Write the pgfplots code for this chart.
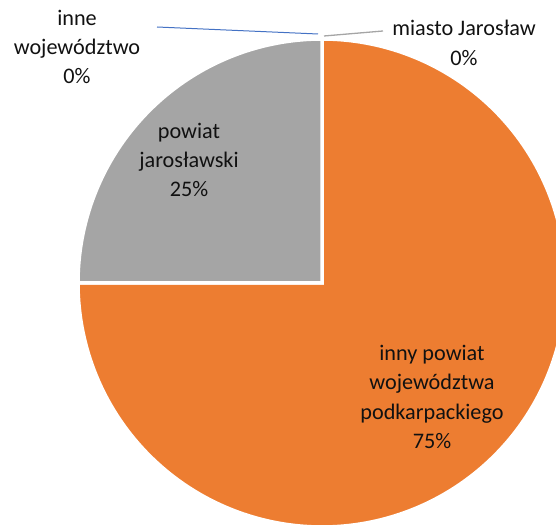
\documentclass[border=0pt]{standalone}
\usepackage{pgfplots}
\usepackage{pgfplotstable}
\usepackage{fontspec}
\setmainfont{Carlito}
\pgfplotsset{compat=1.18}
\definecolor{pieorange}{HTML}{ED7D31}
\definecolor{piegray}{HTML}{A5A5A5}
\definecolor{pieblue}{HTML}{4472C4}
\definecolor{lbl}{HTML}{111111}

% shares in percent, clockwise from 12 o'clock
\pgfplotstableread{
label   share
miasto  0
inny    75
powiat  25
inne    0
}\shares

\begin{document}
\begin{tikzpicture}
\tikzset{lab/.style={font=\fontsize{22.3}{29.5}\selectfont, text=lbl, align=center}}
\pgfplotstablegetelem{0}{share}\of\shares \pgfmathsetmacro{\sA}{\pgfplotsretval}
\pgfplotstablegetelem{1}{share}\of\shares \pgfmathsetmacro{\sB}{\pgfplotsretval}
\pgfplotstablegetelem{2}{share}\of\shares \pgfmathsetmacro{\sC}{\pgfplotsretval}
\pgfmathsetmacro{\aA}{90-3.6*\sA}
\pgfmathsetmacro{\aB}{\aA-3.6*\sB}
\pgfmathsetmacro{\aC}{\aB-3.6*\sC}
\begin{axis}[
    width=556bp, height=525bp, scale only axis,
    xmin=0, xmax=556, ymin=0, ymax=525,
    hide axis, clip=true,
]
% inny powiat województwa podkarpackiego
\addplot[fill=pieorange, draw=white, line width=3.5bp, domain=\aB:\aA, samples=240, variable=\t]
    ({322+244*cos(t)}, {242+244*sin(t)}) -- (axis cs:322,242) -- cycle;
% powiat jarosławski
\addplot[fill=piegray, draw=white, line width=3.5bp, domain=\aC:\aB, samples=120, variable=\t]
    ({322+244*cos(t)}, {242+244*sin(t)}) -- (axis cs:322,242) -- cycle;

% leader lines
\draw[pieblue, line width=1pt] (axis cs:157,498) -- (axis cs:318,491);
\draw[piegray, line width=1.3pt] (axis cs:324,489) -- (axis cs:383,494);

\node[lab] at (axis cs:77,478) {inne\\województwo\\0\%};
\node[lab] at (axis cs:464,482) {miasto Jarosław\\0\%};
\node[lab] at (axis cs:189,365) {powiat\\jarosławski\\25\%};
\node[lab] at (axis cs:432,128) {inny powiat\\województwa\\podkarpackiego\\75\%};

\coordinate (sw) at (axis cs:0,0);
\coordinate (ne) at (axis cs:556,525);
\end{axis}
\pgfresetboundingbox
\path[use as bounding box] (sw) rectangle (ne);
\end{tikzpicture}
\end{document}
